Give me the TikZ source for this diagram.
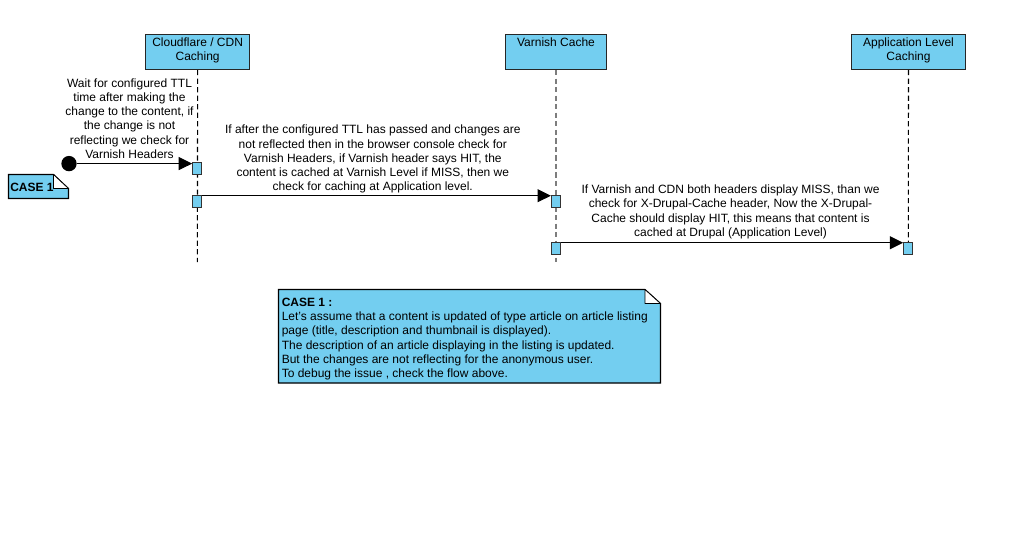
\documentclass[tikz,border=0pt]{standalone}
\usepackage{fontspec}
\setmainfont{Liberation Sans}
\usetikzlibrary{arrows.meta}
\definecolor{umlblue}{RGB}{115,206,240}
\definecolor{lifegray}{RGB}{125,125,125}
\begin{document}
\begin{tikzpicture}[x=0.75pt,y=-0.75pt,
 txt/.style={font=\fontsize{9}{10.7}\selectfont, align=center, inner sep=0pt},
 head/.style={draw=black!85, fill=umlblue, line width=0.8pt, minimum height=26.25pt, inner sep=0pt},
 headtext/.style={txt, anchor=north, yshift=-2.4pt},
 act/.style={draw=black!80, fill=umlblue, line width=0.9pt, minimum width=6.8pt, minimum height=9pt, inner sep=0pt},
 lifeline/.style={line width=0.8pt, dash pattern=on 3.9pt off 2.5pt},
 msg/.style={line width=0.75pt, -{Triangle[length=10pt,width=9.75pt]}},
 note/.style={draw=black, fill=umlblue, line width=0.8pt},
 fold/.style={draw=black, fill=white, line width=0.6pt, line join=round}]
\useasboundingbox (0,0) rectangle (1020,537);
\fill[white] (0,0) rectangle (1020,537);

% lifeline heads
\node[head, minimum width=78pt, label={[headtext]north:{Cloudflare / CDN\\Caching}}] (cf) at (197.6,52) {};
\node[head, minimum width=75.5pt, label={[headtext]north:{Varnish Cache}}] (vc) at (556,52) {};
\node[head, minimum width=85.5pt, label={[headtext]north:{Application Level\\Caching}}] (ap) at (908.5,52) {};

% lifeline ends
\coordinate (cfend) at (197.4,262);
\coordinate (vcend) at (556,262);
\coordinate (apend) at (908.3,257);

\draw[lifeline] (cf.south) -- (cfend);
\draw[lifeline, draw=lifegray, line width=1.4pt] (vc.south) -- (vcend);
\draw[lifeline] (ap.south) -- (apend);

% activations
\node[act] (a1) at (197.2,168.3) {};
\node[act] (a2) at (197.2,201.5) {};
\node[act] (a3) at (556,201.3) {};
\node[act] (a4) at (556,248.5) {};
\node[act] (a5) at (908.3,248.5) {};

% start
\node[circle, fill=black, minimum size=11.5pt, inner sep=0pt] (start) at (69,163.6) {};

% messages
\draw[msg] (start) -- (start -| a1.west);
\draw[msg] ([yshift=-0.6pt]a2.north east) -- ([yshift=-0.6pt]a2.north east -| a3.west);
\draw[msg] ([yshift=-0.6pt]a4.north east) -- ([yshift=-0.6pt]a4.north east -| a5.west);

\node[txt] (m1) at (129.5,118.5) {Wait for configured TTL\\time after making the\\change to the content, if\\the change is not\\reflecting we check for\\Varnish Headers};
\node[txt] (m2) at (372.8,159.2) {If after the configured TTL has passed and changes are\\not reflected then in the browser console check for\\Varnish Headers, if Varnish header says HIT, the\\content is cached at Varnish Level if MISS, then we\\check for caching at Application level.};
\node[txt] (m3) at (730.5,212) {If Varnish and CDN both headers display MISS, than we\\check for X-Drupal-Cache header, Now the X-Drupal-\\Cache should display HIT, this means that content is\\cached at Drupal (Application Level)};

% small note
\path[note] (8.5,174.5) -- (53.5,174.5) -- (68.5,188.5) -- (68.5,198.5) -- (8.5,198.5) -- cycle;
\path[fold] (53.5,174.5) -- (53.5,188.5) -- (68.5,188.5) -- cycle;
\node[txt, font=\fontsize{9}{10.7}\selectfont\bfseries] (case) at (32,187.8) {CASE 1};

% big note
\path[note] (278.5,289.5) -- (645,289.5) -- (660.5,303.5) -- (660.5,383) -- (278.5,383) -- cycle;
\path[fold] (645,289.5) -- (645,303.5) -- (660.5,303.5) -- cycle;
\node[txt, align=left, anchor=west] (notetext) at (281.5,339) {\textbf{CASE 1 :}\\Let's assume that a content is updated of type article on article listing\\page (title, description and thumbnail is displayed).\\The description of an article displaying in the listing is updated.\\But the changes are not reflecting for the anonymous user.\\To debug the issue , check the flow above.};
\end{tikzpicture}
\end{document}
